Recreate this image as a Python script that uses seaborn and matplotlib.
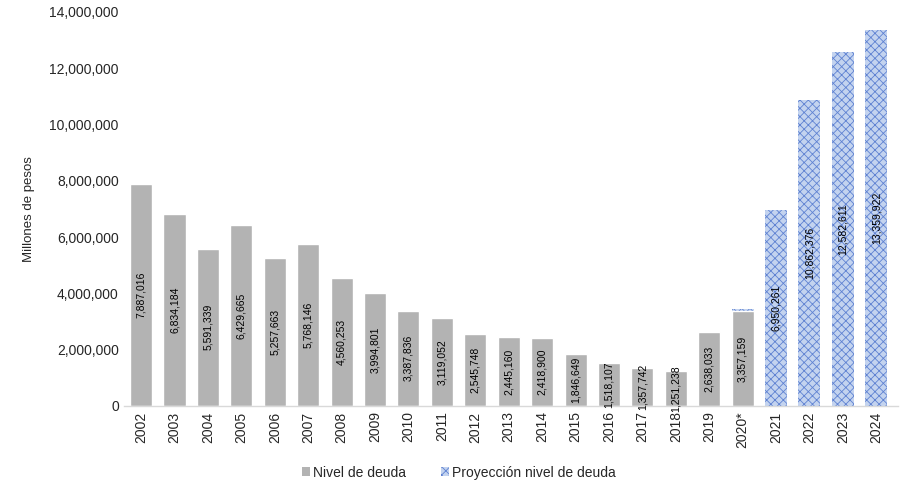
import matplotlib
matplotlib.use("Agg")
import matplotlib.pyplot as plt
import seaborn as sns
import pandas as pd
from matplotlib.patches import Patch

years = ["2002", "2003", "2004", "2005", "2006", "2007", "2008", "2009", "2010",
         "2011", "2012", "2013", "2014", "2015", "2016", "2017", "2018", "2019",
         "2020*", "2021", "2022", "2023", "2024"]
deuda_years = years[:19]
deuda = [7887016, 6834184, 5591339, 6429665, 5257663, 5768146, 4560253, 3994801,
         3387836, 3119052, 2545748, 2445160, 2418900, 1846649, 1518107, 1357742,
         1251238, 2638033, 3357159]
proy_years = ["2020*", "2021", "2022", "2023", "2024"]
proy = [3430000, 6950261, 10862376, 12582611, 13359922]
proy_labels = [None, "6,950,261", "10,862,376", "12,582,611", "13,359,922"]

sns.set_style("white")
plt.rcParams["font.family"] = ["Liberation Sans", "DejaVu Sans"]
plt.rcParams["hatch.linewidth"] = 0.6

PROY_FACE = "#c3d3ef"
PROY_EDGE = "#5f82d2"

fig = plt.figure(figsize=(9.08, 4.95), dpi=100)
ax = fig.add_axes([0.137, 0.18, 0.852, 0.796])

df_p = pd.DataFrame({"year": proy_years, "val": proy})
df_d = pd.DataFrame({"year": deuda_years, "val": deuda})

sns.barplot(data=df_p, x="year", y="val", order=years, color=PROY_FACE,
            width=0.66, ax=ax, saturation=1)
for p in ax.patches:
    p.set_hatch("xxxx")
    p.set_edgecolor(PROY_EDGE)
    p.set_linewidth(0)
sns.barplot(data=df_d, x="year", y="val", order=years, color="#b3b3b3",
            width=0.66, ax=ax, saturation=1)

# value labels
for yr, v in zip(deuda_years, deuda):
    xi = years.index(yr)
    ax.text(xi, v / 2, f"{v:,}", rotation=90, ha="center", va="center",
            fontsize=7.5, color="black")
for yr, v, lab in zip(proy_years, proy, proy_labels):
    if lab is None:
        continue
    xi = years.index(yr)
    ax.text(xi, v / 2, lab, rotation=90, ha="center", va="center",
            fontsize=7.5, color="black")

ax.set_ylim(0, 14000000)
ax.set_xlim(-0.5, len(years) - 0.5 + 0.15)
ax.set_yticks(range(0, 14000001, 2000000))
ax.set_yticklabels([f"{t:,}" for t in range(0, 14000001, 2000000)], fontsize=10)
ax.set_xticks(range(len(years)))
ax.set_xticklabels(years, rotation=90, fontsize=10)
ax.tick_params(axis="both", length=0, pad=4)
ax.set_xlabel("")
ax.set_ylabel("Millones de pesos", fontsize=9.5, labelpad=10)
for s in ["top", "right", "left"]:
    ax.spines[s].set_visible(False)
ax.spines["bottom"].set_color("#d9d9d9")
ax.spines["bottom"].set_linewidth(1)

handles = [Patch(facecolor="#b3b3b3", edgecolor="none", label="Nivel de deuda"),
           Patch(facecolor=PROY_FACE, edgecolor=PROY_EDGE, hatch="xxxx",
                 linewidth=0, label="Proyección nivel de deuda")]
fig.legend(handles=handles, loc="center", bbox_to_anchor=(0.505, 0.045), ncol=2,
           frameon=False, fontsize=10, handlelength=0.6, handleheight=0.6,
           handletextpad=0.2, columnspacing=2.5)

fig.savefig("out.png", dpi=100)
